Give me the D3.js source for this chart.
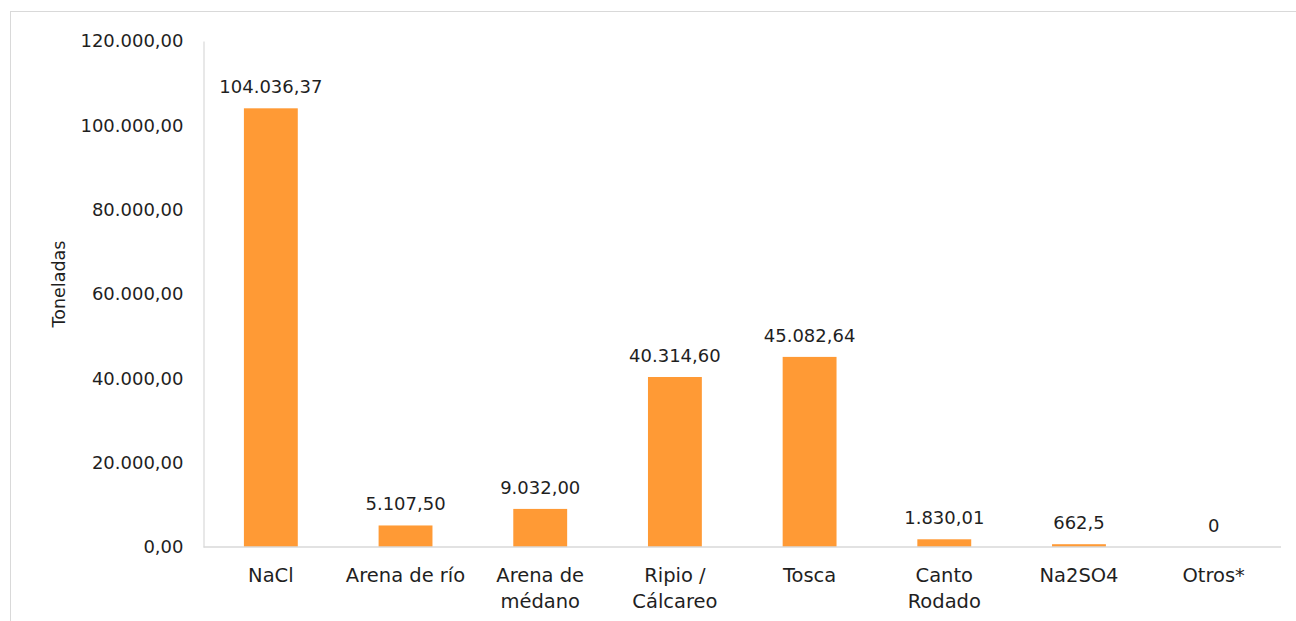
<!DOCTYPE html>
<html>
<head>
<meta charset="utf-8">
<script src="https://cdn.jsdelivr.net/npm/d3@7"></script>
<style>
  html, body { margin: 0; padding: 0; background: #fff; }
  svg { display: block; }
  text { font-family: "DejaVu Sans", "Lato", sans-serif; fill: #1f1f1f; }
</style>
</head>
<body>
<svg id="chart" width="1296" height="621"></svg>
<script>
const categories = ["NaCl", "Arena de río", "Arena de médano", "Ripio / Cálcareo", "Tosca", "Canto Rodado", "Na2SO4", "Otros*"];
const categoryLines = [["NaCl"], ["Arena de río"], ["Arena de", "médano"], ["Ripio /", "Cálcareo"], ["Tosca"], ["Canto", "Rodado"], ["Na2SO4"], ["Otros*"]];
const values = [104036.37, 5107.50, 9032.00, 40314.60, 45082.64, 1830.01, 662.5, 0];
const valueLabels = ["104.036,37", "5.107,50", "9.032,00", "40.314,60", "45.082,64", "1.830,01", "662,5", "0"];
const yTicks = [0, 20000, 40000, 60000, 80000, 100000, 120000];
const yTickLabels = ["0,00", "20.000,00", "40.000,00", "60.000,00", "80.000,00", "100.000,00", "120.000,00"];
const yTitle = "Toneladas";

const svg = d3.select("#chart");
const numSize = 18;
const catSize = 19.5;
const plot = { left: 203.5, right: 1281, top: 41, bottom: 547 };

// outer chart border (extends past the window on right and bottom)
svg.append("rect")
  .attr("x", 10.5).attr("y", 11.5)
  .attr("width", 1400).attr("height", 800)
  .attr("fill", "none").attr("stroke", "#d9d9d9").attr("stroke-width", 1);

const x = d3.scaleBand().domain(categories).range([plot.left, plot.right]).paddingInner(0.6).paddingOuter(0.3);
const y = d3.scaleLinear().domain([0, 120000]).range([plot.bottom, plot.top]);

// bars
svg.append("g").selectAll("rect").data(values).join("rect")
  .attr("x", (d, i) => x(categories[i]))
  .attr("y", d => y(d))
  .attr("width", x.bandwidth())
  .attr("height", d => y(0) - y(d))
  .attr("fill", "#ff9a35");

// y axis
const yAxis = d3.axisLeft(y).tickValues(yTicks).tickSize(0).tickPadding(20)
  .tickFormat((d, i) => yTickLabels[i]);
const gy = svg.append("g").attr("transform", `translate(${plot.left},0)`).call(yAxis);
gy.select(".domain").attr("stroke", "#d9d9d9").attr("stroke-width", 1.2);
gy.selectAll("text").attr("font-size", numSize).attr("font-family", null).style("fill", "#1f1f1f");

// x axis
const xAxis = d3.axisBottom(x).tickSize(0).tickFormat(() => "");
const gx = svg.append("g").attr("transform", `translate(0,${plot.bottom})`).call(xAxis);
gx.select(".domain").attr("stroke", "#d9d9d9").attr("stroke-width", 1.5)
  .attr("d", `M${plot.left},0H${plot.right}`);
gx.selectAll(".tick").each(function(d, i) {
  const t = d3.select(this).append("text")
    .attr("text-anchor", "middle")
    .attr("font-size", catSize)
    .attr("y", 35)
    .style("fill", "#1f1f1f");
  categoryLines[i].forEach((line, j) => {
    t.append("tspan").attr("x", 0).attr("dy", j === 0 ? 0 : 26).text(line);
  });
});

// data labels
svg.append("g").selectAll("text").data(values).join("text")
  .attr("x", (d, i) => x(categories[i]) + x.bandwidth() / 2)
  .attr("y", d => y(d) - 15)
  .attr("text-anchor", "middle")
  .attr("font-size", numSize)
  .text((d, i) => valueLabels[i]);

// y title
svg.append("text")
  .attr("transform", `translate(65,284) rotate(-90)`)
  .attr("text-anchor", "middle")
  .attr("font-size", 17.5)
  .text(yTitle);
</script>
</body>
</html>
